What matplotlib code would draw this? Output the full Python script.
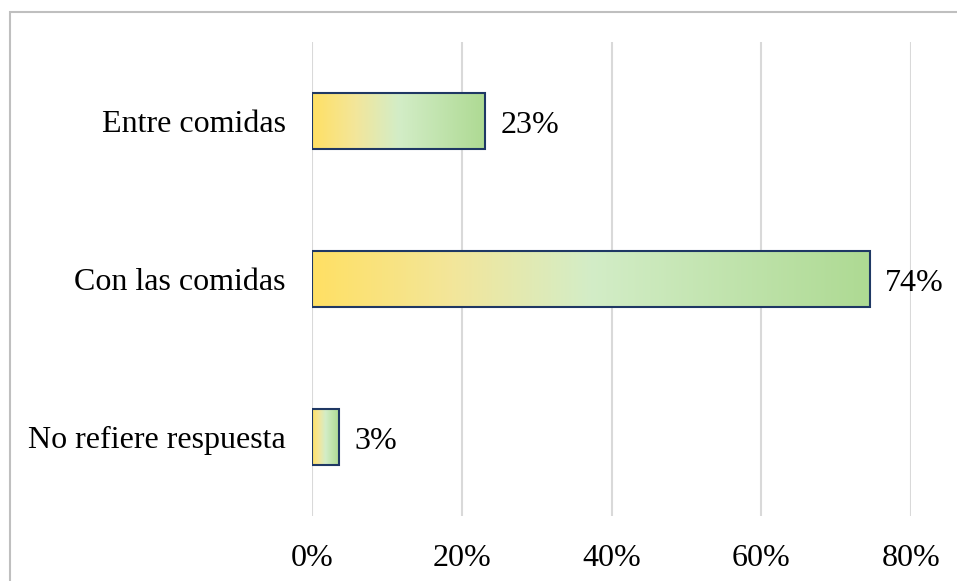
import matplotlib
matplotlib.use("Agg")
import matplotlib.pyplot as plt
import numpy as np
from matplotlib.colors import LinearSegmentedColormap
from matplotlib.patches import Rectangle

categories = ["Entre comidas", "Con las comidas", "No refiere respuesta"]
values = [0.231, 0.745, 0.036]
value_labels = ["23%", "74%", "3%"]
ticks = [0, 0.2, 0.4, 0.6, 0.8]
tick_labels = ["0%", "20%", "40%", "60%", "80%"]

plt.rcParams['font.family'] = ['Liberation Serif', 'DejaVu Serif']

fig = plt.figure(figsize=(9.57, 5.81), dpi=100)
ax = fig.add_axes([312/957, 1 - 516/581, 599/957, 474/581])

# outer chart border (gray), cropped at right/bottom
fig.patches.append(Rectangle((10/957, -0.05), 1.2, 1 - 12/581 + 0.05,
                             transform=fig.transFigure, fill=False,
                             edgecolor="#BFBFBF", linewidth=1.5))

cmap = LinearSegmentedColormap.from_list(
    "grad", [(0, "#FFE064"), (0.25, "#F3E69A"), (0.5, "#D3EDC7"), (1, "#AEDA93")])
grad = np.linspace(0, 1, 256).reshape(1, -1)

y = np.arange(len(categories))
bars = ax.barh(y, values, height=0.36, facecolor="none",
               edgecolor="#1F3864", linewidth=1.5, zorder=3)
for b in bars:
    x0, y0 = b.get_x(), b.get_y()
    w, h = b.get_width(), b.get_height()
    im = ax.imshow(grad, cmap=cmap, aspect="auto",
                   extent=[x0, x0 + w, y0, y0 + h], zorder=2)
    im.set_clip_path(b)

for yi, v, lab in zip(y, values, value_labels):
    ax.annotate(lab, (v, yi), xytext=(11, -3), textcoords="offset points",
                va="center", ha="left", fontsize=23)

ax.set_xlim(0, 0.8)
ax.set_ylim(len(categories) - 0.5, -0.5)
ax.set_xticks(ticks)
ax.set_xticklabels(tick_labels)
ax.set_yticks(y)
ax.set_yticklabels(categories)
ax.tick_params(axis="both", length=0, labelsize=23)
ax.tick_params(axis="y", pad=19)
ax.tick_params(axis="x", pad=20)
for t in ax.get_yticklabels():
    t.set_y(t.get_position()[1])
ax.grid(axis="x", color="#D9D9D9", linewidth=1.5, zorder=0)
ax.set_axisbelow(True)
for s in ax.spines.values():
    s.set_visible(False)

fig.savefig("out.png", dpi=100)
